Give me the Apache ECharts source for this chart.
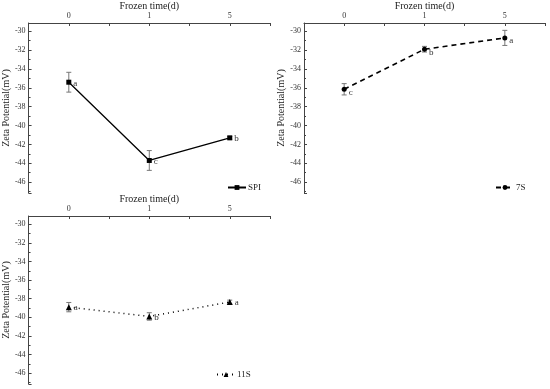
<!DOCTYPE html>
<html><head><meta charset="utf-8">
<script src="https://cdn.jsdelivr.net/npm/echarts@6/dist/echarts.min.js"></script>
<style>html,body{margin:0;padding:0;background:#fff}#c{width:550px;height:389px}</style>
</head><body><div id="c"></div>
<script>
const categories = ['0', '1', '5'];
const spiValues = [-35.4, -43.7, -41.3];
const spiErrors = [1.05, 1.05, 0.15];
const spiLetters = ['a', 'c', 'b'];
const s7Values = [-36.15, -31.9, -30.7];
const s7Errors = [0.6, 0.3, 0.8];
const s7Letters = ['c', 'b', 'a'];
const s11Values = [-38.9, -39.9, -38.35];
const s11Errors = [0.5, 0.4, 0.2];
const s11Letters = ['a', 'b', 'a'];
const xTitle = 'Frozen time(d)';
const yTitle = 'Zeta Potential(mV)';

const FONT = 'Liberation Serif';
const chart = echarts.init(document.getElementById('c'), null, {renderer: 'canvas'});

const grids = [
  {left: 27, top: 23, width: 243, height: 170},
  {left: 304, top: 23, width: 241, height: 170},
  {left: 27, top: 216, width: 243, height: 168}
];

function xAxis(i) {
  return {
    type: 'value', gridIndex: i, position: 'top', min: -0.5, max: 2.5, interval: 0.5,
    name: xTitle, nameLocation: 'middle', nameGap: 10,
    nameTextStyle: {fontFamily: FONT, fontSize: 10, color: '#222'},
    axisLine: {show: true, onZero: false, lineStyle: {color: '#444', width: 1}},
    axisTick: {show: true, inside: true, length: 3, lineStyle: {color: '#444'}},
    axisLabel: {fontFamily: FONT, fontSize: 8, color: '#333', margin: 3,
      formatter: v => (Math.abs(v - Math.round(v)) < 1e-6 && v >= 0 && v <= 2) ? categories[Math.round(v)] : ''},
    splitLine: {show: false}
  };
}
function yAxis(i) {
  return {
    type: 'value', gridIndex: i, min: -47.15, max: -29.12, splitNumber: 9,
    name: yTitle, nameLocation: 'middle', nameGap: 15, nameRotate: 90,
    nameTextStyle: {fontFamily: FONT, fontSize: 10, color: '#222'},
    axisLine: {show: true, onZero: false, lineStyle: {color: '#444', width: 1}},
    axisTick: {show: true, inside: true, length: 3, lineStyle: {color: '#444'}},
    minorTick: {show: true, splitNumber: 2, length: 2, lineStyle: {color: '#444'}},
    axisLabel: {fontFamily: FONT, fontSize: 8, color: '#333', margin: 3, showMinLabel: false, showMaxLabel: false,
      formatter: v => (Math.abs(v - Math.round(v)) < 1e-6 && Math.round(v) % 2 === 0) ? String(Math.round(v)) : ''},
    splitLine: {show: false}
  };
}

function errSeries(i, vals, errs) {
  return {
    type: 'custom', xAxisIndex: i, yAxisIndex: i, silent: true, z: 1,
    data: vals.map((v, k) => [k, v - errs[k], v + errs[k]]),
    renderItem: (params, api) => {
      const lo = api.coord([api.value(0), api.value(1)]);
      const hi = api.coord([api.value(0), api.value(2)]);
      const w = 2.5;
      const st = {stroke: '#777', lineWidth: 1};
      return {type: 'group', children: [
        {type: 'line', shape: {x1: lo[0], y1: lo[1], x2: hi[0], y2: hi[1]}, style: st},
        {type: 'line', shape: {x1: lo[0] - w, y1: lo[1], x2: lo[0] + w, y2: lo[1]}, style: st},
        {type: 'line', shape: {x1: hi[0] - w, y1: hi[1], x2: hi[0] + w, y2: hi[1]}, style: st}
      ]};
    }
  };
}

function lineSeries(i, name, vals, letters, symbol, size, lineType, width, offset) {
  return {
    type: 'line', name: name, xAxisIndex: i, yAxisIndex: i, z: 3,
    data: vals.map((v, k) => [k, v]),
    symbol: symbol, symbolSize: size,
    itemStyle: {color: '#000'},
    lineStyle: {color: '#000', width: width, type: lineType},
    label: {show: true, position: 'right', distance: 2, offset: offset,
      fontFamily: FONT, fontSize: 9, color: '#333',
      formatter: p => letters[p.dataIndex]},
    animation: false
  };
}

function legend(i, name, left, top) {
  return {
    data: [name], left: left, top: top, orient: 'vertical', itemWidth: 18, itemHeight: 6, itemGap: 0,
    padding: 0, selectedMode: false,
    textStyle: {fontFamily: FONT, fontSize: 9, color: '#222', padding: [0, 0, 0, -3]}
  };
}

chart.setOption({
  animation: false,
  backgroundColor: '#fff',
  grid: grids,
  xAxis: [xAxis(0), xAxis(1), xAxis(2)],
  yAxis: [yAxis(0), yAxis(1), yAxis(2)],
  legend: [
    legend(0, 'SPI', 227, 183),
    legend(1, '7S', 495, 183),
    legend(2, '11S', 216, 370)
  ],
  series: [
    errSeries(0, spiValues, spiErrors),
    errSeries(1, s7Values, s7Errors),
    errSeries(2, s11Values, s11Errors),
    lineSeries(0, 'SPI', spiValues, spiLetters, 'rect', 5, 'solid', 1.3, [0, 1]),
    lineSeries(1, '7S', s7Values, s7Letters, 'circle', 5, [5, 4], 1.6, [0, 3]),
    lineSeries(2, '11S', s11Values, s11Letters, 'triangle', 6, [1, 4], 1.5, [0, 1])
  ]
});
</script></body></html>
